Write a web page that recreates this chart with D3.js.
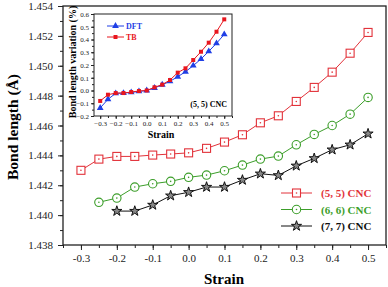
<!DOCTYPE html>
<html>
<head>
<meta charset="utf-8">
<script src="https://cdn.jsdelivr.net/npm/d3@7"></script>
<style>
  body { margin: 0; background: #fff; }
  svg { display: block; font-family: "Liberation Serif", "DejaVu Serif", serif; }
</style>
</head>
<body>
<div id="chart"></div>
<script>
// strain values (main chart and inset)
const strain = [-0.3, -0.25, -0.2, -0.15, -0.1, -0.05, 0, 0.05, 0.1, 0.15, 0.2, 0.25, 0.3, 0.35, 0.4, 0.45, 0.5];

// bond length (Å) for each nanocone
const cnc55 = [1.4430, 1.44375, 1.44393, 1.44393, 1.44402, 1.44409, 1.44417, 1.44447, 1.44489, 1.44538,
               1.44618, 1.44665, 1.44761, 1.44855, 1.44957, 1.45084, 1.45223];
const cnc66 = [null, 1.44086, 1.44114, 1.44188, 1.4421, 1.44226, 1.44253, 1.44268, 1.44297, 1.44335,
               1.44375, 1.44395, 1.44471, 1.4454, 1.446, 1.44676, 1.44788];
const cnc77 = [null, null, 1.44027, 1.44027, 1.44068, 1.4413, 1.44153, 1.44188, 1.44188, 1.44235,
               1.44277, 1.44266, 1.4433, 1.4438, 1.44438, 1.44471, 1.44545];

// inset: bond length variation (%)
const dft = [-0.137, -0.069, -0.022, -0.02, -0.015, -0.007, 0, 0.02, 0.045, 0.072,
             0.108, 0.147, 0.195, 0.247, 0.307, 0.37, 0.44];
const tb = [-0.082, -0.033, -0.02, -0.02, -0.012, -0.004, 0, 0.025, 0.046, 0.082,
            0.14, 0.174, 0.239, 0.304, 0.375, 0.461, 0.558];

const xTicks = [-0.3, -0.2, -0.1, 0.0, 0.1, 0.2, 0.3, 0.4, 0.5];
const yTicks = [1.438, 1.440, 1.442, 1.444, 1.446, 1.448, 1.450, 1.452, 1.454];
const insetYTicks = [-0.2, -0.1, 0.0, 0.1, 0.2, 0.3, 0.4, 0.5, 0.6];

const RED = "#e2323a", GREEN = "#3c9e2a", BLACK = "#111";
const IBLUE = "#1f3fe6", IRED = "#e8161e";

const W = 388, H = 287;
const svg = d3.select("#chart").append("svg").attr("width", W).attr("height", H);

// main scales
const x = d3.scaleLinear().domain([-0.35, 0.55]).range([63, 386]);
const y = d3.scaleLinear().domain([1.438, 1.454]).range([245, 6]);

// frame
svg.append("rect").attr("x", 63).attr("y", 6).attr("width", 323).attr("height", 239)
    .attr("fill", "none").attr("stroke", "#222").attr("stroke-width", 1.3);

// x axis with minor ticks
svg.append("g").attr("transform", "translate(0,245)")
    .call(d3.axisBottom(x).tickValues(d3.range(-0.35, 0.551, 0.05)).tickSize(3).tickFormat(""))
    .call(g => g.select(".domain").remove());
svg.append("g").attr("transform", "translate(0,245)")
    .call(d3.axisBottom(x).tickValues(xTicks).tickSize(5).tickPadding(4).tickFormat(d3.format(".1f")))
    .call(g => g.select(".domain").remove())
    .call(g => g.selectAll("text").attr("font-size", 11).attr("font-family", "Liberation Serif").attr("fill", "#222")
        .text(d => d3.format(".1f")(d).replace("−", "-")));

// y axis with minor ticks
svg.append("g").attr("transform", "translate(63,0)")
    .call(d3.axisLeft(y).tickValues(d3.range(1.438, 1.4541, 0.001)).tickSize(3).tickFormat(""))
    .call(g => g.select(".domain").remove());
svg.append("g").attr("transform", "translate(63,0)")
    .call(d3.axisLeft(y).tickValues(yTicks).tickSize(5).tickPadding(5).tickFormat(d3.format(".3f")))
    .call(g => g.select(".domain").remove())
    .call(g => g.selectAll("text").attr("font-size", 11).attr("font-family", "Liberation Serif").attr("fill", "#222"));

svg.selectAll(".tick line").attr("stroke", "#222");

// axis titles
svg.append("text").attr("x", 224).attr("y", 284).attr("text-anchor", "middle")
    .attr("font-size", 15).attr("font-weight", "bold").text("Strain");
svg.append("text").attr("transform", "translate(18,127) rotate(-90)").attr("text-anchor", "middle")
    .attr("font-size", 15.5).attr("font-weight", "bold").text("Bond length (Å)");

// series
const line = d3.line().defined(d => d[1] != null).x(d => x(d[0])).y(d => y(d[1]));
const series = [
    { name: "(5, 5) CNC", vals: cnc55, color: RED, marker: "square" },
    { name: "(6, 6) CNC", vals: cnc66, color: GREEN, marker: "circle" },
    { name: "(7, 7) CNC", vals: cnc77, color: BLACK, marker: "star" }
];

function drawMarker(g, type, color, cx, cy) {
    if (type === "square") {
        g.append("rect").attr("x", cx - 4).attr("y", cy - 4).attr("width", 8).attr("height", 8)
            .attr("fill", "#fff").attr("stroke", color).attr("stroke-width", 1.1);
        g.append("circle").attr("cx", cx).attr("cy", cy).attr("r", 0.8).attr("fill", color);
    } else if (type === "circle") {
        g.append("circle").attr("cx", cx).attr("cy", cy).attr("r", 4.2)
            .attr("fill", "#fff").attr("stroke", color).attr("stroke-width", 1.1);
        g.append("circle").attr("cx", cx).attr("cy", cy).attr("r", 0.8).attr("fill", color);
    } else {
        g.append("path").attr("transform", `translate(${cx},${cy})`)
            .attr("d", d3.symbol().type(d3.symbolStar).size(32)())
            .attr("fill", "#888").attr("stroke", "#111").attr("stroke-width", 1);
    }
}

series.forEach(s => {
    const pts = strain.map((v, i) => [v, s.vals[i]]);
    svg.append("path").datum(pts).attr("d", line)
        .attr("fill", "none").attr("stroke", s.color).attr("stroke-width", 1);
    const g = svg.append("g");
    pts.filter(d => d[1] != null).forEach(d => drawMarker(g, s.marker, s.color, x(d[0]), y(d[1])));
});

// legend
series.forEach((s, i) => {
    const ly = 193 + i * 16.5;
    svg.append("line").attr("x1", 281).attr("x2", 312).attr("y1", ly).attr("y2", ly)
        .attr("stroke", s.color).attr("stroke-width", 1);
    drawMarker(svg.append("g"), s.marker, s.color, 296.5, ly);
    svg.append("text").attr("x", 321).attr("y", ly + 4).attr("font-size", 11).attr("font-weight", "bold")
        .attr("fill", s.color).text(s.name);
});

// ---- inset ----
const ix = d3.scaleLinear().domain([-0.34, 0.55]).range([94, 232]);
const iy = d3.scaleLinear().domain([-0.2, 0.6]).range([116, 14]);

svg.append("rect").attr("x", 94).attr("y", 14).attr("width", 138).attr("height", 102)
    .attr("fill", "#fff").attr("stroke", "#222").attr("stroke-width", 1);

svg.append("g").attr("transform", "translate(0,116)")
    .call(d3.axisBottom(ix).tickValues(d3.range(-0.3, 0.551, 0.05)).tickSize(2).tickFormat(""))
    .call(g => g.select(".domain").remove());
svg.append("g").attr("transform", "translate(0,116)")
    .call(d3.axisBottom(ix).tickValues(xTicks).tickSize(3).tickPadding(2).tickFormat(d3.format(".1f")))
    .call(g => g.select(".domain").remove())
    .call(g => g.selectAll("text").attr("font-size", 7).attr("font-family", "Liberation Serif").attr("fill", "#222"));

svg.append("g").attr("transform", "translate(94,0)")
    .call(d3.axisLeft(iy).tickValues(d3.range(-0.2, 0.601, 0.05)).tickSize(2).tickFormat(""))
    .call(g => g.select(".domain").remove());
svg.append("g").attr("transform", "translate(94,0)")
    .call(d3.axisLeft(iy).tickValues(insetYTicks).tickSize(3).tickPadding(2).tickFormat(d3.format(".1f")))
    .call(g => g.select(".domain").remove())
    .call(g => g.selectAll("text").attr("font-size", 7).attr("font-family", "Liberation Serif").attr("fill", "#222"));

svg.selectAll(".tick line").attr("stroke", "#222");

svg.append("text").attr("x", 161).attr("y", 138).attr("text-anchor", "middle")
    .attr("font-size", 10).attr("font-weight", "bold").text("Strain");
svg.append("text").attr("transform", "translate(76,62) rotate(-90)").attr("text-anchor", "middle")
    .attr("font-size", 10).attr("font-weight", "bold").text("Bond length variation (%)");

const iline = d3.line().x(d => ix(d[0])).y(d => iy(d[1]));
const inset = [
    { name: "DFT", vals: dft, color: IBLUE, marker: "triangle" },
    { name: "TB", vals: tb, color: IRED, marker: "square" }
];

function insetMarker(g, type, color, cx, cy) {
    const sym = type === "triangle" ? d3.symbolTriangle : d3.symbolSquare;
    g.append("path").attr("transform", `translate(${cx},${cy})`)
        .attr("d", d3.symbol().type(sym).size(type === "triangle" ? 20 : 16)())
        .attr("fill", color);
}

inset.forEach(s => {
    const pts = strain.map((v, i) => [v, s.vals[i]]);
    svg.append("path").datum(pts).attr("d", iline)
        .attr("fill", "none").attr("stroke", s.color).attr("stroke-width", 1);
    const g = svg.append("g");
    pts.forEach(d => insetMarker(g, s.marker, s.color, ix(d[0]), iy(d[1])));
});

inset.forEach((s, i) => {
    const ly = 26 + i * 11;
    svg.append("line").attr("x1", 107).attr("x2", 124).attr("y1", ly).attr("y2", ly)
        .attr("stroke", s.color).attr("stroke-width", 1);
    insetMarker(svg.append("g"), s.marker, s.color, 115.5, ly);
    svg.append("text").attr("x", 126).attr("y", ly + 3).attr("font-size", 8).attr("font-weight", "bold")
        .attr("fill", s.color).text(s.name);
});

svg.append("text").attr("x", 227).attr("y", 107).attr("text-anchor", "end")
    .attr("font-size", 8).attr("font-weight", "bold").text("(5, 5) CNC");
</script>
</body>
</html>
